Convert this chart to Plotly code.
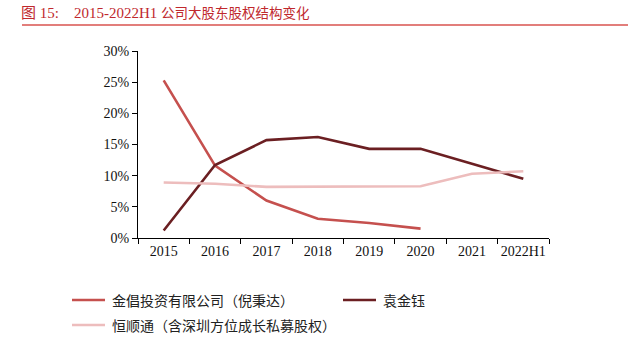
import plotly.graph_objects as go

categories = ["2015", "2016", "2017", "2018", "2019", "2020", "2021", "2022H1"]
jinchang = [25.3, 11.6, 6.0, 3.1, 2.4, 1.5, None, None]
yuanjinyu = [1.2, 11.7, 15.7, 16.2, 14.3, 14.3, 11.9, 9.5]
hengshuntong = [8.9, 8.7, 8.2, 8.2, 8.3, 8.3, 10.3, 10.7]

names = ["金倡投资有限公司（倪秉达）", "袁金钰", "恒顺通（含深圳方位成长私募股权）"]
colors = ["#C5504E", "#6B1F22", "#EDBDBD"]

serif = "Liberation Serif, Times New Roman, Noto Sans CJK SC, serif"
cjk = "Noto Sans CJK SC, sans-serif"

W, H = 628, 340
L, R, T, B = 138, 79, 51, 102
PW, PH = W - L - R, H - T - B


def px_x(x):
    return (x - L) / PW


def px_y(y):
    return (H - B - y) / PH


fig = go.Figure()
for vals, name, col in zip([jinchang, yuanjinyu, hengshuntong], names, colors):
    fig.add_trace(go.Scatter(
        x=categories, y=vals, name=name, mode="lines",
        line=dict(color=col, width=2.6), connectgaps=False,
    ))

fig.update_layout(
    width=W, height=H,
    margin=dict(l=L, r=R, t=T, b=B, autoexpand=False),
    paper_bgcolor="white", plot_bgcolor="white",
    showlegend=False,
    xaxis=dict(
        type="category", showgrid=False, showline=True, linecolor="#000000", linewidth=1,
        ticks="outside", ticklen=5, tickcolor="#000000", tickson="boundaries",
        tickfont=dict(family=serif, size=14, color="#111111"), tickangle=0,
        range=[-0.5, 7.5], automargin=False,
    ),
    yaxis=dict(
        range=[0, 30], dtick=5, ticksuffix="%", showgrid=False, zeroline=False,
        showline=True, linecolor="#000000", linewidth=1,
        ticks="outside", ticklen=5, tickcolor="#000000",
        tickfont=dict(family=serif, size=14, color="#111111"), automargin=False,
    ),
)

# title
fig.add_annotation(
    text=("图 15:&nbsp;&nbsp;&nbsp; 2015-2022H1 "
          "<span style='font-size:13.5px'>公司大股东股权结构变化</span>"),
    xref="paper", yref="paper", x=px_x(19), y=px_y(13), xanchor="left", yanchor="middle",
    showarrow=False, font=dict(family=serif, size=15, color="#C0282D"),
)
fig.add_shape(
    type="line", xref="paper", yref="paper", x0=px_x(22), x1=px_x(628),
    y0=px_y(25), y1=px_y(25), line=dict(color="#D9534F", width=1.5),
)

# manual legend
legend_pos = [(72, 300), (343, 300), (72, 325)]
for (lx, ly), name, col in zip(legend_pos, names, colors):
    fig.add_shape(
        type="line", xref="paper", yref="paper", x0=px_x(lx), x1=px_x(lx + 33),
        y0=px_y(ly), y1=px_y(ly), line=dict(color=col, width=2.6),
    )
    fig.add_annotation(
        text=name, xref="paper", yref="paper", x=px_x(lx + 38), y=px_y(ly),
        xanchor="left", yanchor="middle", showarrow=False,
        font=dict(family=cjk, size=14, color="#222222"),
    )

fig.write_html("out.html")
